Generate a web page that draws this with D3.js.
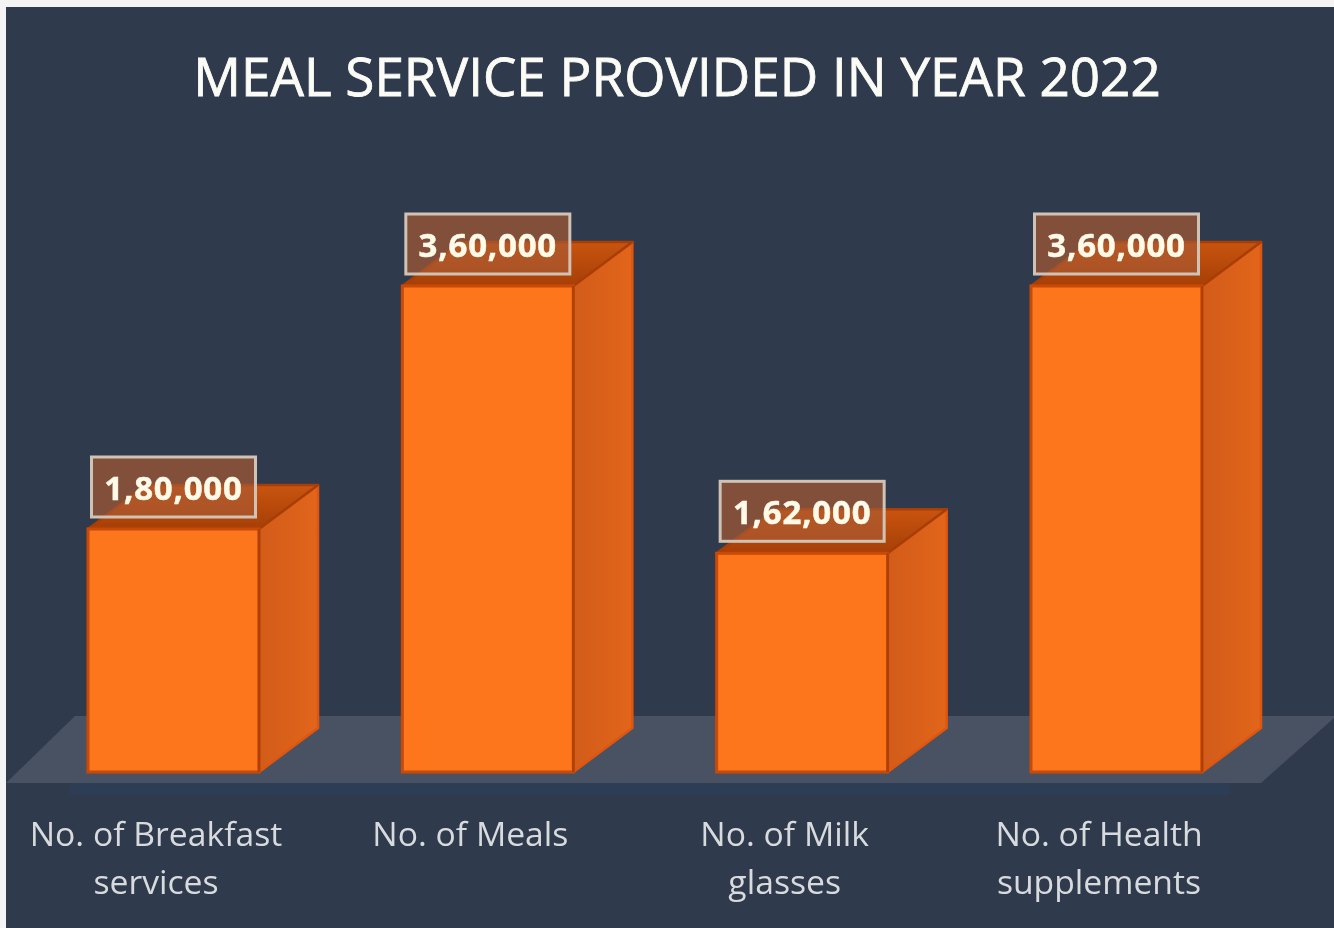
<!DOCTYPE html>
<html>
<head>
<meta charset="utf-8">
<title>Meal service provided in year 2022</title>
<script src="https://cdn.jsdelivr.net/npm/d3@7"></script>
<style>
  html, body { margin: 0; padding: 0; background: #f4f4f5; }
  svg { display: block; font-family: "Open Sans", sans-serif; }
</style>
</head>
<body>
<div id="chart"></div>
<script>
var titleText = 'MEAL SERVICE PROVIDED IN YEAR 2022';
var categories = ['No. of Breakfast services', 'No. of Meals', 'No. of Milk glasses', 'No. of Health supplements'];
var tickLines = [['No. of Breakfast', 'services'], ['No. of Meals'], ['No. of Milk', 'glasses'], ['No. of Health', 'supplements']];
var values = [180000, 360000, 162000, 360000];

var width = 1334, height = 928,
    baseY = 772, topY = 286,
    depthX = 59, depthY = 44;

var svg = d3.select('#chart').append('svg')
    .attr('width', width)
    .attr('height', height);

var x = d3.scaleBand().domain(categories).range([88, 1202]).paddingInner(0.456).paddingOuter(0),
    y = d3.scaleLinear().domain([0, 360000]).range([baseY, topY]),
    // indian digit grouping, 1,80,000
    fmt = d3.formatLocale({decimal: '.', thousands: ',', grouping: [3, 2], currency: ['', '']}).format(',');

var defs = svg.append('defs');
var sideGrad = defs.append('linearGradient').attr('id', 'sideGrad');
sideGrad.append('stop').attr('offset', '0%').attr('stop-color', '#d25c1a');
sideGrad.append('stop').attr('offset', '100%').attr('stop-color', '#e2651a');
var topGrad = defs.append('linearGradient').attr('id', 'topGrad').attr('x1', 0).attr('y1', 0).attr('x2', 0).attr('y2', 1);
topGrad.append('stop').attr('offset', '0%').attr('stop-color', '#c9540f');
topGrad.append('stop').attr('offset', '100%').attr('stop-color', '#a63f07');
var soft = defs.append('filter').attr('id', 'soft').attr('x', '-20%').attr('y', '-20%').attr('width', '140%').attr('height', '140%');
soft.append('feGaussianBlur').attr('stdDeviation', 0.6);

// background panel
svg.append('rect')
    .attr('x', 6).attr('y', 7)
    .attr('width', width - 6).attr('height', height - 7)
    .attr('fill', '#303a4d');

// floor
svg.append('path')
    .attr('d', 'M6,783L75,716L1334,716L1334,718L1261,783Z')
    .attr('fill', '#495262');
svg.append('rect')
    .attr('x', 70).attr('y', 783).attr('width', 1160).attr('height', 12)
    .attr('fill', '#2f4060').attr('opacity', 0.5)
    .attr('filter', 'url(#soft)');

svg.append('text')
    .attr('x', 677).attr('y', 96)
    .attr('text-anchor', 'middle')
    .attr('font-size', 53)
    .attr('fill', '#fbfcf6')
    .attr('stroke', '#fbfcf6')
    .attr('stroke-width', 0.8)
    .attr('filter', 'url(#soft)')
    .text(titleText);

// ================ bars
var bars = svg.selectAll('g.bar').data(values).enter().append('g').attr('class', 'bar');

bars.append('path')
    .attr('d', function(d, i){
        var r = x(categories[i]) + x.bandwidth();
        return 'M'+r+','+y(d)+'l'+depthX+','+(-depthY)+'L'+(r+depthX)+','+(baseY-depthY)+'L'+r+','+baseY+'Z';
    })
    .attr('fill', 'url(#sideGrad)')
    .attr('stroke', '#e0560f')
    .attr('stroke-width', 2.5)
    .attr('stroke-linejoin', 'round');

bars.append('path')
    .attr('d', function(d, i){
        var l = x(categories[i]), r = l + x.bandwidth();
        return 'M'+l+','+y(d)+'l'+depthX+','+(-depthY)+'L'+(r+depthX)+','+(y(d)-depthY)+'L'+r+','+y(d)+'Z';
    })
    .attr('fill', 'url(#topGrad)')
    .attr('stroke', '#a83e05')
    .attr('stroke-width', 2.5)
    .attr('stroke-linejoin', 'round');

bars.append('rect')
    .attr('x', function(d, i){ return x(categories[i]); })
    .attr('y', function(d){ return y(d); })
    .attr('width', x.bandwidth())
    .attr('height', function(d){ return baseY - y(d); })
    .attr('fill', '#fd761c')
    .attr('stroke', '#c94a08')
    .attr('stroke-width', 3);

// darker edge where the front meets the side
bars.append('line')
    .attr('x1', function(d, i){ return x(categories[i]) + x.bandwidth(); })
    .attr('x2', function(d, i){ return x(categories[i]) + x.bandwidth(); })
    .attr('y1', function(d){ return y(d); })
    .attr('y2', baseY)
    .attr('stroke', '#ad4005')
    .attr('stroke-width', 2.5);

// ================ value labels
var labels = svg.selectAll('g.label').data(values).enter().append('g').attr('class', 'label');

labels.append('rect')
    .attr('x', function(d, i){ return x(categories[i]) + x.bandwidth()/2 - 82; })
    .attr('y', function(d){ return y(d) - 72; })
    .attr('width', 164)
    .attr('height', 60)
    .attr('fill', 'rgb(169,90,51)')
    .attr('fill-opacity', 0.68)
    .attr('stroke', '#cfc3b5')
    .attr('stroke-width', 3);

labels.append('text')
    .attr('x', function(d, i){ return x(categories[i]) + x.bandwidth()/2; })
    .attr('y', function(d){ return y(d) - 29; })
    .attr('text-anchor', 'middle')
    .attr('font-size', 33)
    .attr('font-weight', 700)
    .attr('letter-spacing', 0.8)
    .attr('fill', '#fffbe8')
    .attr('stroke', '#fffbe8')
    .attr('stroke-width', 0.5)
    .attr('filter', 'url(#soft)')
    .text(function(d){ return fmt(d); });

// ================ category axis
var axis = svg.append('g')
    .attr('transform', 'translate(-17.5,' + 812 + ')')
    .call(d3.axisBottom(x).tickSize(0).tickPadding(0));
axis.select('.domain').remove();
axis.selectAll('text')
    .attr('font-family', '"Open Sans", sans-serif')
    .attr('font-size', 33.7)
    .attr('fill', '#d8dbdd')
    .attr('filter', 'url(#soft)')
    .attr('y', 0).attr('dy', null)
    .each(function(d, i){
        var t = d3.select(this).text(null);
        tickLines[i].forEach(function(line, k){
            t.append('tspan')
                .attr('x', 0)
                .attr('y', 34 + k*48)
                .text(line);
        });
    });
</script>
</body>
</html>
